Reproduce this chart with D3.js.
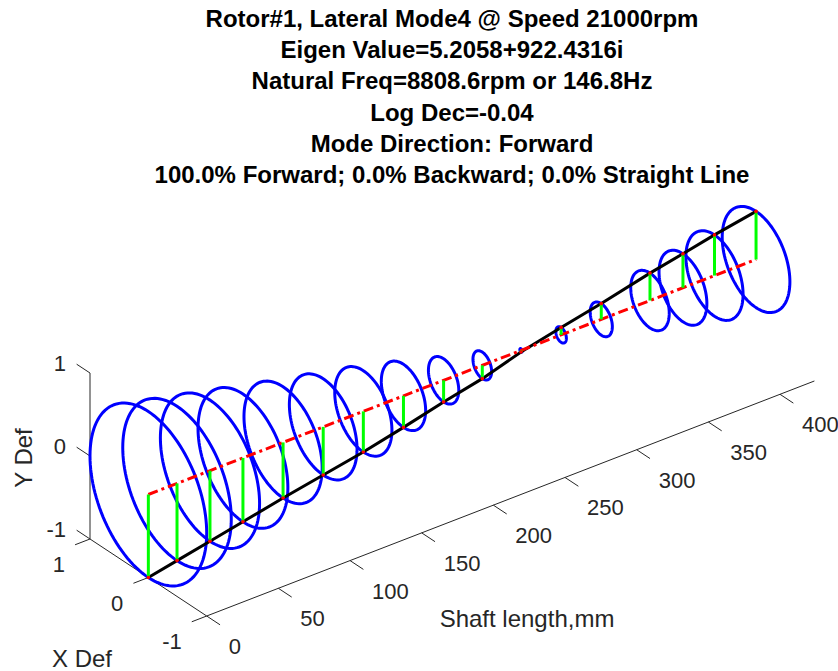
<!DOCTYPE html>
<html>
<head>
<meta charset="utf-8">
<script src="https://cdn.jsdelivr.net/npm/d3@7"></script>
<style>
  body { margin: 0; background: #fff; }
  svg { display: block; }
  text { font-family: "Liberation Sans", Arial, Helvetica, sans-serif; }
</style>
</head>
<body>
<script>
// chart data
const titleLines = [
  "Rotor#1, Lateral Mode4 @ Speed 21000rpm",
  "Eigen Value=5.2058+922.4316i",
  "Natural Freq=8808.6rpm or 146.8Hz",
  "Log Dec=-0.04",
  "Mode Direction: Forward",
  "100.0% Forward; 0.0% Backward; 0.0% Straight Line"
];
const stations = [0, 20, 43, 66, 94, 122, 150, 178, 206, 233, 260, 288, 316, 350, 373, 395, 424];
const yDef = [-1.0, -0.93, -0.85, -0.77, -0.67, -0.58, -0.49, -0.38, -0.26, -0.16, -0.02, 0.09, 0.19, 0.33, 0.41, 0.49, 0.58];
const shaftTicks = [0, 50, 100, 150, 200, 250, 300, 350, 400];
const xDefTicks = [-1, 0, 1];
const yDefTicks = [-1, 0, 1];
const shaftMax = 424;

const width = 838, height = 671;
const svg = d3.select("body").append("svg")
  .attr("width", width)
  .attr("height", height);

// screen position of the corner (shaft=0, X=-1, Y=-1)
const ox = 206.7, oy = 616;

// each data axis moves the point along its own screen direction
const shaftToX = d3.scaleLinear().domain([0, 400]).range([0, 573.3]);
const shaftToY = d3.scaleLinear().domain([0, 400]).range([0, -221.7]);
const defXToX = d3.scaleLinear().domain([-1, 1]).range([0, -116.7]);
const defXToY = d3.scaleLinear().domain([-1, 1]).range([0, -77]);
const defYToY = d3.scaleLinear().domain([-1, 1]).range([0, -166]);

function proj(s, x, y) {
  return [ox + shaftToX(s) + defXToX(x), oy + shaftToY(s) + defXToY(x) + defYToY(y)];
}

function unit(v) {
  let l = Math.hypot(v[0], v[1]);
  return [v[0] / l, v[1] / l];
}

const axisColor = "#262626";
const tickLen = 16;
const line = d3.line();

// axis directions on screen, used for tick marks
const dirShaft = unit([shaftToX(1) - shaftToX(0), shaftToY(1) - shaftToY(0)]);
const dirX = unit([defXToX(1) - defXToX(0), defXToY(1) - defXToY(0)]);

let axes = svg.append("g").attr("class", "axes");

// shaft axis along the floor at X=-1
axes.append("path")
  .attr("d", line([proj(0, -1, -1), proj(shaftMax, -1, -1)]))
  .attr("stroke", axisColor).attr("fill", "none").attr("stroke-width", 1);

shaftTicks.forEach(function(t) {
  let p = proj(t, -1, -1);
  axes.append("path")
    .attr("d", line([p, [p[0] - dirX[0] * tickLen, p[1] - dirX[1] * tickLen]]))
    .attr("stroke", axisColor).attr("stroke-width", 1);
  axes.append("text")
    .attr("x", p[0] + 22)
    .attr("y", p[1] + 38)
    .attr("font-size", 22)
    .attr("fill", axisColor)
    .attr("text-anchor", "start")
    .text(t);
});

// X Def axis along the floor at shaft=0
axes.append("path")
  .attr("d", line([proj(0, 1, -1), proj(0, -1, -1)]))
  .attr("stroke", axisColor).attr("fill", "none").attr("stroke-width", 1);

xDefTicks.forEach(function(t) {
  let p = proj(0, t, -1);
  axes.append("path")
    .attr("d", line([p, [p[0] - dirShaft[0] * tickLen, p[1] - dirShaft[1] * tickLen]]))
    .attr("stroke", axisColor).attr("stroke-width", 1);
  axes.append("text")
    .attr("x", p[0] - 25)
    .attr("y", p[1] + 33)
    .attr("font-size", 22)
    .attr("fill", axisColor)
    .attr("text-anchor", "end")
    .text(t);
});

// Y Def axis, vertical at shaft=0, X=1
axes.append("path")
  .attr("d", line([proj(0, 1, -1), proj(0, 1, 1)]))
  .attr("stroke", axisColor).attr("fill", "none").attr("stroke-width", 1);

yDefTicks.forEach(function(t) {
  let p = proj(0, 1, t);
  axes.append("path")
    .attr("d", line([p, [p[0] + dirX[0] * tickLen, p[1] + dirX[1] * tickLen]]))
    .attr("stroke", axisColor).attr("stroke-width", 1);
  axes.append("text")
    .attr("x", p[0] - 24)
    .attr("y", p[1] - 2.5)
    .attr("font-size", 22)
    .attr("fill", axisColor)
    .attr("text-anchor", "end")
    .text(t);
});

// axis labels
let sl = proj(230, -1, -1);
svg.append("text")
  .attr("x", 527).attr("y", 627)
  .attr("font-size", 24).attr("fill", axisColor)
  .attr("text-anchor", "middle")
  .text("Shaft length,mm");

svg.append("text")
  .attr("x", 82).attr("y", 667)
  .attr("font-size", 24).attr("fill", axisColor)
  .attr("text-anchor", "middle")
  .text("X Def");

svg.append("text")
  .attr("transform", "translate(32,458) rotate(-90)")
  .attr("font-size", 24).attr("fill", axisColor)
  .attr("text-anchor", "middle")
  .text("Y Def");

// orbits, one circle per station
let angles = d3.range(0, 360, 3).map(d => d * Math.PI / 180);
let orbits = svg.append("g").attr("class", "orbits");
stations.forEach(function(s, i) {
  let r = Math.abs(yDef[i]);
  let pts = angles.map(a => proj(s, r * Math.sin(a), -r * Math.cos(a)));
  orbits.append("path")
    .attr("d", d3.line().curve(d3.curveLinearClosed)(pts))
    .attr("fill", "none")
    .attr("stroke", "#0000ff")
    .attr("stroke-width", 3);
});

// deflected shape
svg.append("path")
  .attr("d", line(stations.map((s, i) => proj(s, 0, yDef[i]))))
  .attr("fill", "none")
  .attr("stroke", "#000")
  .attr("stroke-width", 3);

// undeformed centre line
svg.append("path")
  .attr("d", line([proj(0, 0, 0), proj(shaftMax, 0, 0)]))
  .attr("fill", "none")
  .attr("stroke", "#ff0000")
  .attr("stroke-width", 3)
  .attr("stroke-dasharray", "10,4,3,4");

// stems from centre line to deflected shape
let stems = svg.append("g").attr("class", "stems");
stations.forEach(function(s, i) {
  stems.append("path")
    .attr("d", line([proj(s, 0, 0), proj(s, 0, yDef[i])]))
    .attr("stroke", "#00ff00")
    .attr("stroke-width", 3);
});

svg.append("g").selectAll("circle")
  .data(stations)
  .enter()
  .append("circle")
  .attr("cx", (d, i) => proj(d, 0, yDef[i])[0])
  .attr("cy", (d, i) => proj(d, 0, yDef[i])[1])
  .attr("r", 1.8)
  .attr("fill", "#ff0000");

// title
svg.append("g").selectAll("text")
  .data(titleLines)
  .enter()
  .append("text")
  .attr("x", 452)
  .attr("y", (d, i) => 27 + i * 31.2)
  .attr("font-size", 24)
  .attr("font-weight", "bold")
  .attr("fill", "#000")
  .attr("text-anchor", "middle")
  .text(d => d);
</script>
</body>
</html>
